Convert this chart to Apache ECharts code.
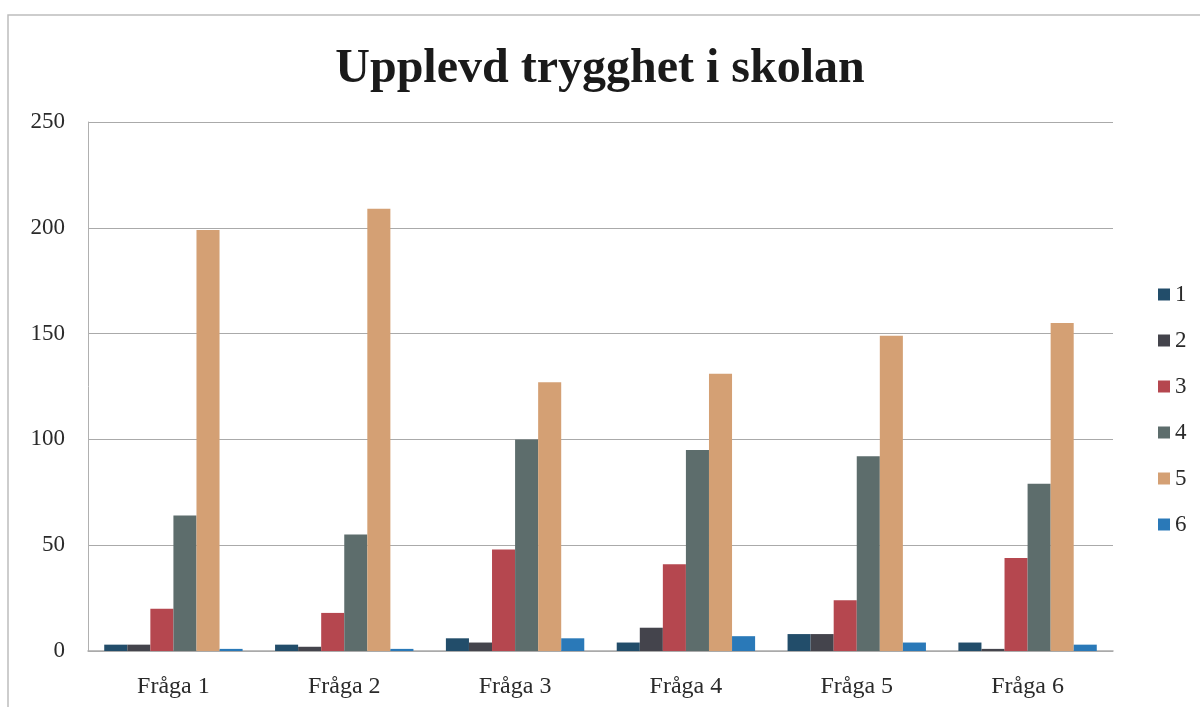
<!DOCTYPE html>
<html>
<head>
<meta charset="utf-8">
<script src="https://cdn.jsdelivr.net/npm/echarts@6/dist/echarts.min.js"></script>
<style>
html,body{margin:0;padding:0;background:#fff;}
#chart{width:1200px;height:707px;}
</style>
</head>
<body>
<div id="chart"></div>
<script>
const categories = ['Fråga 1','Fråga 2','Fråga 3','Fråga 4','Fråga 5','Fråga 6'];
const seriesNames = ['1','2','3','4','5','6'];
const s1 = [3, 3, 6, 4, 8, 4];
const s2 = [3, 2, 4, 11, 8, 1];
const s3 = [20, 18, 48, 41, 24, 44];
const s4 = [64, 55, 100, 95, 92, 79];
const s5 = [199, 209, 127, 131, 149, 155];
const s6 = [1, 1, 6, 7, 4, 3];
const seriesValues = [s1, s2, s3, s4, s5, s6];
const colors = ['#224d6a', '#44444c', '#b5474f', '#5d6d6c', '#d4a074', '#2a79b8'];

const chart = echarts.init(document.getElementById('chart'));
const serif = '"Liberation Serif", "DejaVu Serif", serif';
chart.setOption({
  animation: false,
  color: colors,
  title: {
    text: 'Upplevd trygghet i skolan',
    left: 'center',
    top: 41,
    textStyle: {fontFamily: serif, fontWeight: 'bold', fontSize: 48, color: '#1a1a1a'}
  },
  graphic: [{
    type: 'rect',
    shape: {x: 8, y: 15, width: 1300, height: 800},
    style: {fill: 'none', stroke: '#bdbdbd', lineWidth: 1.5},
    silent: true
  }],
  legend: {
    orient: 'vertical',
    left: 1153,
    top: 278,
    itemWidth: 12,
    itemHeight: 12,
    itemGap: 23,
    icon: 'rect',
    textStyle: {fontFamily: serif, fontSize: 23, color: '#2a2a2a'},
    data: seriesNames
  },
  grid: {left: 88, right: 87, top: 122, bottom: 56, containLabel: false},
  xAxis: {
    type: 'category',
    data: categories,
    axisLine: {lineStyle: {color: '#aaaaaa', width: 1.5}},
    axisTick: {show: false},
    axisLabel: {fontFamily: serif, fontSize: 24, color: '#2a2a2a', margin: 24}
  },
  yAxis: {
    type: 'value',
    min: 0, max: 250, interval: 50,
    axisLine: {show: true, lineStyle: {color: '#b0b0b0', width: 1}},
    axisTick: {show: false},
    splitLine: {lineStyle: {color: '#aaaaaa', width: 1.2}},
    axisLabel: {fontFamily: serif, fontSize: 23, color: '#2a2a2a', margin: 23}
  },
  series: seriesNames.map((n, i) => ({
    name: n,
    type: 'bar',
    data: seriesValues[i],
    barGap: '0%',
    barCategoryGap: '19%',
    itemStyle: {color: colors[i]}
  }))
});
</script>
</body>
</html>
